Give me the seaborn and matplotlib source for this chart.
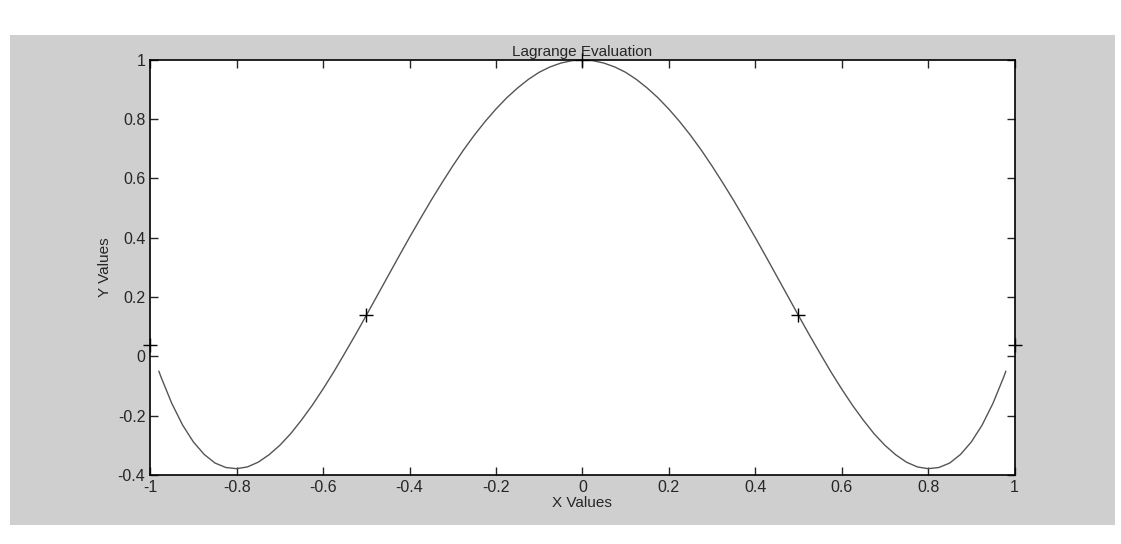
import numpy as np
import pandas as pd
import matplotlib.pyplot as plt
import seaborn as sns
from matplotlib.patches import Rectangle

# curve values (right half, the curve is symmetric about x = 0)
x_half = [0.0, 0.025, 0.05, 0.075, 0.1, 0.125, 0.15, 0.175, 0.2, 0.225,
          0.25, 0.275, 0.3, 0.325, 0.35, 0.375, 0.4, 0.425, 0.45, 0.475,
          0.5, 0.525, 0.55, 0.575, 0.6, 0.625, 0.65, 0.675, 0.7, 0.725,
          0.75, 0.775, 0.8, 0.825, 0.85, 0.875, 0.9, 0.925, 0.95, 0.975, 0.98]
y_half = [1.0, 0.997, 0.989, 0.976, 0.958, 0.934, 0.905, 0.872, 0.834, 0.792,
          0.746, 0.696, 0.642, 0.585, 0.526, 0.464, 0.401, 0.336, 0.27, 0.204,
          0.138, 0.073, 0.01, -0.052, -0.11, -0.165, -0.215, -0.261, -0.3, -0.332,
          -0.357, -0.373, -0.379, -0.375, -0.36, -0.331, -0.289, -0.232, -0.159, -0.07, -0.05]

# interpolation nodes (+ markers)
node_x = [-1.0, -0.5, 0.0, 0.5, 1.0]
node_y = [0.0385, 0.138, 1.0, 0.138, 0.0385]

x_ticks = [-1, -0.8, -0.6, -0.4, -0.2, 0, 0.2, 0.4, 0.6, 0.8, 1]
y_ticks = [-0.4, -0.2, 0, 0.2, 0.4, 0.6, 0.8, 1]

x_vals = [-v for v in x_half[:0:-1]] + x_half
y_vals = y_half[:0:-1] + y_half
curve = pd.DataFrame({"x": x_vals, "y": y_vals})
nodes = pd.DataFrame({"x": node_x, "y": node_y})

sns.set_style("ticks")
plt.rcParams['font.family'] = ['Liberation Sans', 'DejaVu Sans']

fig = plt.figure(figsize=(11.21, 5.44), dpi=100, facecolor="white")
# grey figure area of the scanned page
fig.patches.append(Rectangle((10 / 1121, 1 - 525 / 544), 1105 / 1121, 490 / 544,
                             transform=fig.transFigure, facecolor="#cfcfcf",
                             edgecolor="none", zorder=-10))

ax = fig.add_axes([0.134, 0.127, 0.771, 0.763])
ax.set_facecolor("white")

sns.lineplot(data=curve, x="x", y="y", ax=ax, color="#555555", linewidth=1.0, sort=False)
sns.scatterplot(data=nodes, x="x", y="y", ax=ax, marker="+", s=90, color="black",
                linewidth=1.0, clip_on=False, zorder=5)

ax.set_xlim(-1, 1)
ax.set_ylim(-0.4, 1)
ax.set_xticks(x_ticks)
ax.set_yticks(y_ticks)
ax.set_xticklabels([f"{t:g}" for t in x_ticks])
ax.set_yticklabels([f"{t:g}" for t in y_ticks])
ax.tick_params(direction="in", top=True, right=True, length=6, width=1, labelsize=11.5)

for s in ax.spines.values():
    s.set_visible(True)
    s.set_linewidth(1.2)
    s.set_color("black")

ax.set_xlabel("X Values", fontsize=11, labelpad=1)
ax.set_ylabel("Y Values", fontsize=11, labelpad=4)
ax.set_title("Lagrange Evaluation", fontsize=11, pad=3)

fig.savefig("out.png", dpi=100, facecolor=fig.get_facecolor())
